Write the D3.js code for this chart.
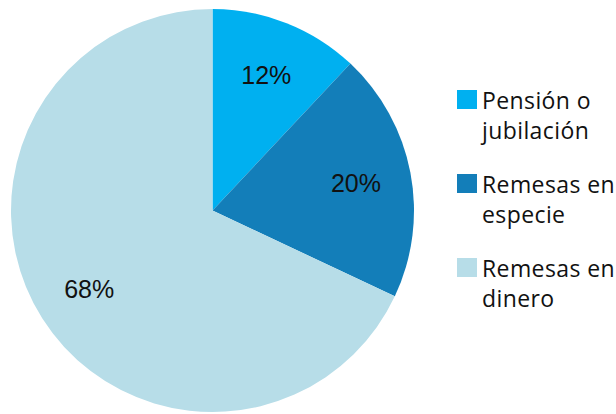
<!DOCTYPE html>
<html>
<head>
<meta charset="utf-8">
<script src="https://cdn.jsdelivr.net/npm/d3@7"></script>
<style>
  body { margin: 0; background: #fff; }
</style>
</head>
<body>
<div id="chart"></div>
<script>
// Data
const categories = ["Pensión o jubilación", "Remesas en especie", "Remesas en dinero"];
const values = [12, 20, 68];
const legendLines = [["Pensión o", "jubilación"], ["Remesas en", "especie"], ["Remesas en", "dinero"]];
const colors = ["#00B0F0", "#137EB9", "#B7DDE8"];

const width = 616;
const height = 414;
const cx = 212.5, cy = 210.5, radius = 201.5;

const svg = d3.select("#chart")
  .append("svg")
    .attr("width", width)
    .attr("height", height);

const color = d3.scaleOrdinal()
  .domain(categories)
  .range(colors);

const pie = d3.pie()
  .sort(null)
  .value(d => d.value);

const data = categories.map((c, i) => ({name: c, value: values[i]}));
const arcs = pie(data);

const arc = d3.arc().innerRadius(0).outerRadius(radius);
const labelArc = d3.arc().innerRadius(146).outerRadius(146);

const g = svg.append("g")
  .attr("transform", `translate(${cx},${cy})`);

// Slices
g.selectAll(".slice")
  .data(arcs)
  .join("path")
    .attr("class", "slice")
    .attr("d", arc)
    .attr("fill", d => color(d.data.name));

// Labels
g.selectAll(".label")
  .data(arcs)
  .join("text")
    .attr("class", "label")
    .attr("transform", d => `translate(${labelArc.centroid(d)})`)
    .attr("text-anchor", "middle")
    .attr("dy", "0.36em")
    .style("font-family", "'Liberation Sans', Arial, sans-serif")
    .style("font-size", "25px")
    .attr("fill", "#111")
    .text(d => d.data.value + "%");

// Legend
const legendY = d3.scalePoint()
  .domain(categories)
  .range([109, 277]);

const legend = svg.append("g").attr("class", "legend");

const item = legend.selectAll(".item")
  .data(categories)
  .join("g")
    .attr("class", "item")
    .attr("transform", d => `translate(0,${legendY(d)})`);

item.append("rect")
  .attr("x", 457)
  .attr("y", -19)
  .attr("width", 20)
  .attr("height", 19)
  .attr("fill", d => color(d));

item.append("text")
  .attr("x", 482)
  .style("font-family", "'Open Sans', sans-serif")
  .style("font-size", "23px")
  .style("letter-spacing", "0.4px")
  .attr("fill", "#111")
  .selectAll("tspan")
  .data((d, i) => legendLines[i])
  .join("tspan")
    .attr("x", 482)
    .attr("y", (d, j) => j * 30)
    .text(d => d);
</script>
</body>
</html>
